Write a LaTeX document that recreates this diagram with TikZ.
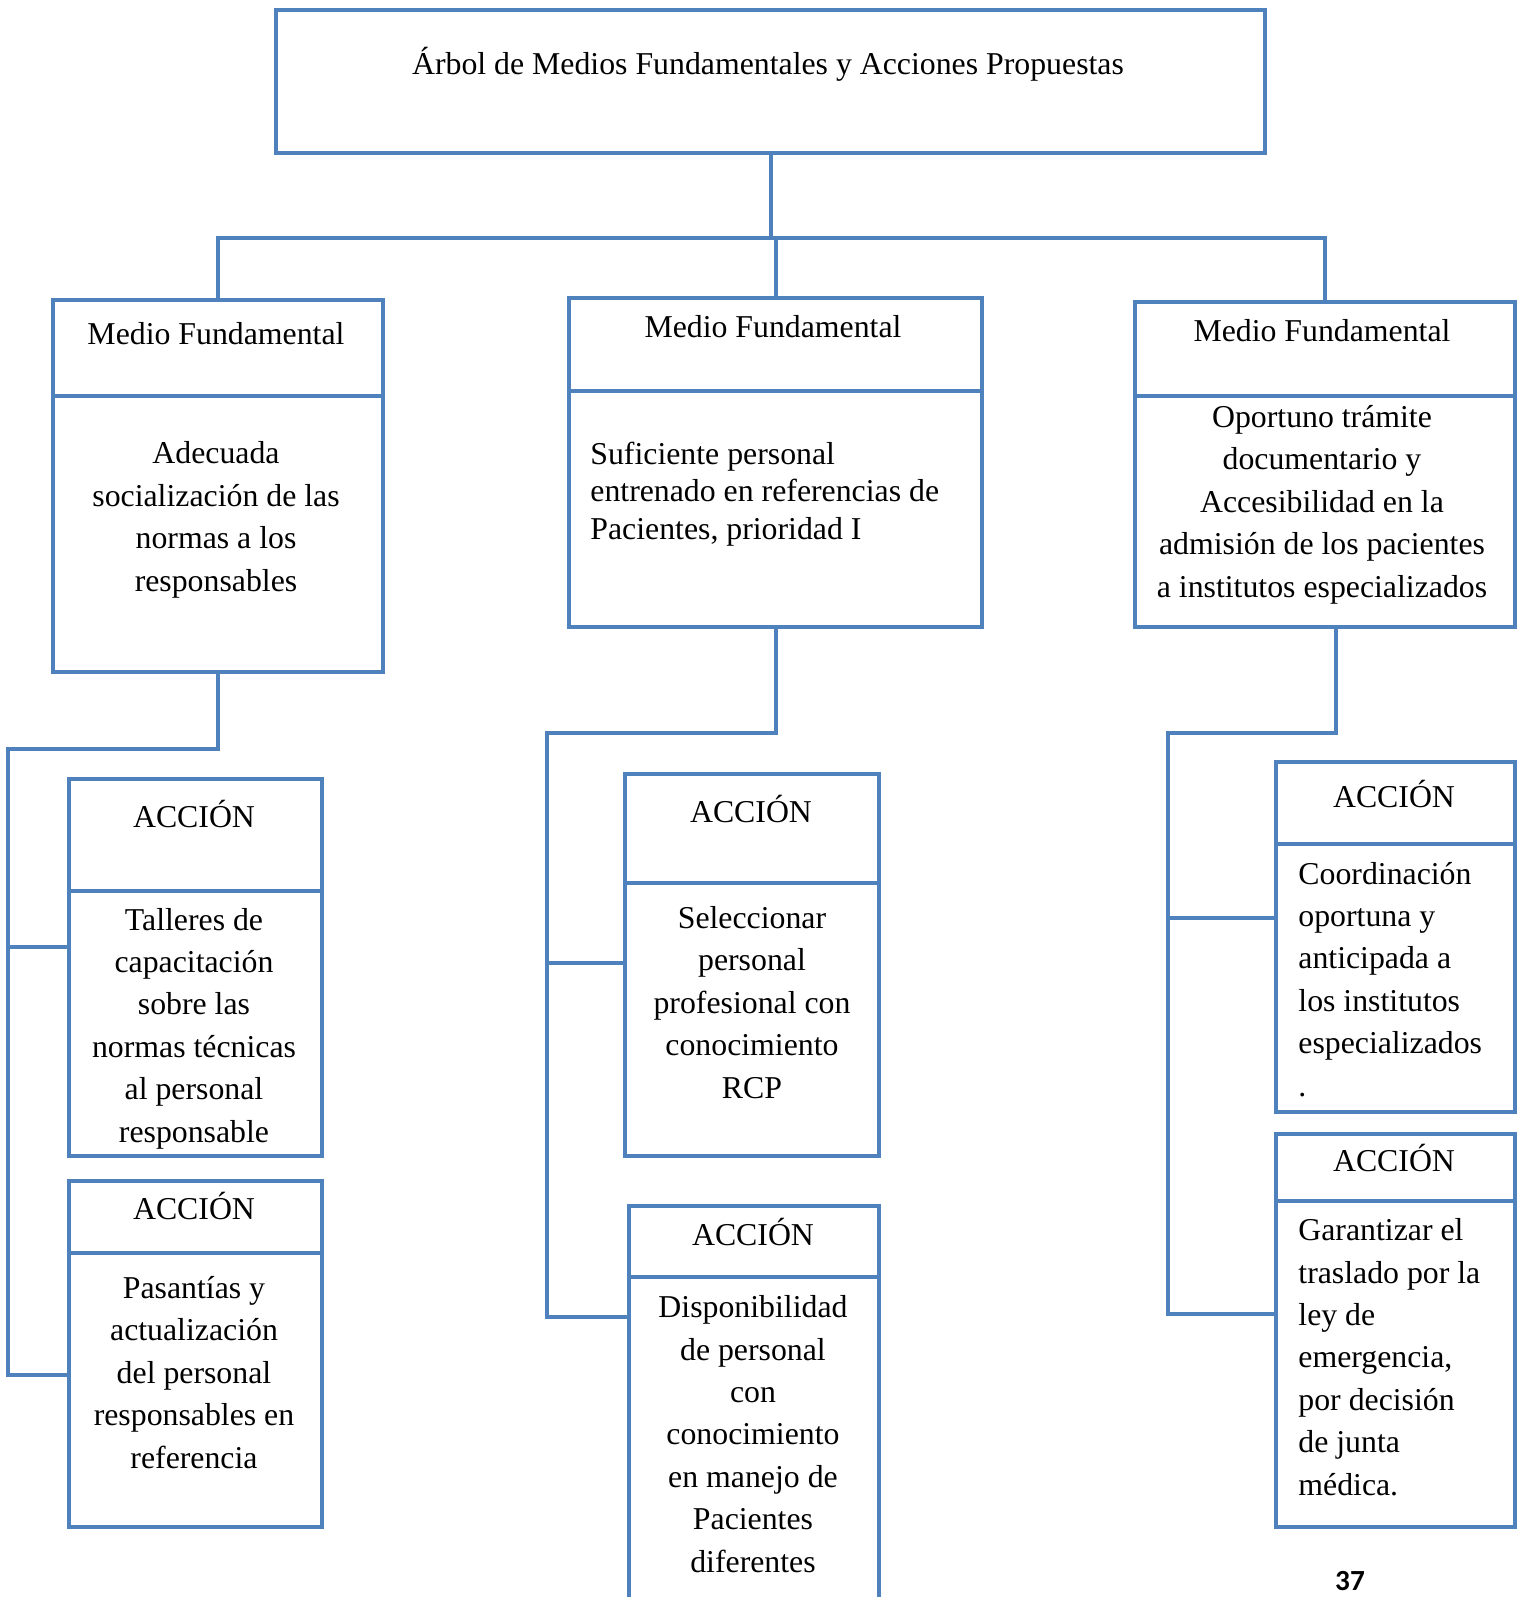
\documentclass[tikz,border=0pt]{standalone}
\usepackage{fontspec}
\setmainfont{Liberation Serif}
\newfontfamily\pagefont{Carlito}
\usetikzlibrary{calc}
\definecolor{wordblue}{HTML}{4F81BD}

\begin{document}
\begin{tikzpicture}[x=0.5pt, y=-0.5pt,
  box/.style={draw=wordblue, line width=2.2pt, rectangle, inner sep=0, anchor=north west},
  link/.style={draw=wordblue, line width=2.2pt},
  txt/.style={inner sep=0, font=\fontsize{15.9}{21.2}\selectfont, align=center, anchor=base},
  ltxt/.style={txt, align=left, anchor=base west}]

  \path[use as bounding box, clip] (0,0) rectangle (1525,1597);

  % cajas
  \node[box, minimum width=494.5pt, minimum height=71.5pt] at (274,8) (title) {};
  \node[box, minimum width=165pt, minimum height=48pt] at (51,298) (mf1h) {};
  \node[box, minimum width=165pt, minimum height=138pt] at (51,394) (mf1b) {};
  \node[box, minimum width=206.5pt, minimum height=46.5pt] at (567,296) (mf2h) {};
  \node[box, minimum width=206.5pt, minimum height=118pt] at (567,389) (mf2b) {};
  \node[box, minimum width=190pt, minimum height=47pt] at (1133,300) (mf3h) {};
  \node[box, minimum width=190pt, minimum height=115.5pt] at (1133,394) (mf3b) {};

  \node[box, minimum width=126.5pt, minimum height=56pt] at (67,777) (a1h) {};
  \node[box, minimum width=126.5pt, minimum height=132.5pt] at (67,889) (a1b) {};
  \node[box, minimum width=126.5pt, minimum height=36pt] at (67,1179) (a2h) {};
  \node[box, minimum width=126.5pt, minimum height=137pt] at (67,1251) (a2b) {};
  \node[box, minimum width=127pt, minimum height=54.5pt] at (623,772) (a3h) {};
  \node[box, minimum width=127pt, minimum height=136.5pt] at (623,881) (a3b) {};
  \node[box, minimum width=125pt, minimum height=35.5pt] at (627,1204) (a4h) {};
  \node[box, minimum width=125pt, minimum height=172.5pt] at (627,1275) (a4b) {};
  \node[box, minimum width=119.5pt, minimum height=41pt] at (1274,760) (a5h) {};
  \node[box, minimum width=119.5pt, minimum height=134pt] at (1274,842) (a5b) {};
  \node[box, minimum width=119.5pt, minimum height=33.5pt] at (1274,1132) (a6h) {};
  \node[box, minimum width=119.5pt, minimum height=163pt] at (1274,1199) (a6b) {};

  % textos (base = ultima linea)
  \node[txt] at (768,74) (ttitle) {Árbol de Medios Fundamentales y Acciones Propuestas};
  \node[txt] at (216,344) (tmf1h) {Medio Fundamental};
  \node[txt] at (216,591) (tmf1b) {Adecuada\\socialización de las\\normas a los\\responsables};
  \node[txt] at (773,337) (tmf2h) {Medio Fundamental};
  \node[ltxt, font=\fontsize{15.9}{18.6}\selectfont] at (590,539) (tmf2b)
    {Suficiente personal\\entrenado en referencias de\\Pacientes, prioridad I};
  \node[txt] at (1322,341) (tmf3h) {Medio Fundamental};
  \node[txt] at (1322,597) (tmf3b)
    {Oportuno trámite\\documentario y\\Accesibilidad en la\\admisión de los pacientes\\a institutos especializados};

  \node[txt] at (194,827) (ta1h) {ACCIÓN};
  \node[txt] at (194,1142) (ta1b)
    {Talleres de\\capacitación\\sobre las\\normas técnicas\\al personal\\responsable};
  \node[txt] at (194,1219) (ta2h) {ACCIÓN};
  \node[txt] at (194,1468) (ta2b)
    {Pasantías y\\actualización\\del personal\\responsables en\\referencia};
  \node[txt] at (751,822) (ta3h) {ACCIÓN};
  \node[txt] at (752,1098) (ta3b)
    {Seleccionar\\personal\\profesional con\\conocimiento\\RCP};
  \node[txt] at (753,1245) (ta4h) {ACCIÓN};
  \node[txt] at (753,1572) (ta4b)
    {Disponibilidad\\de personal\\con\\conocimiento\\en manejo de\\Pacientes\\diferentes};
  \node[txt] at (1394,807) (ta5h) {ACCIÓN};
  \node[ltxt] at (1298,1096) (ta5b)
    {Coordinación\\oportuna y\\anticipada a\\los institutos\\especializados\\.};
  \node[txt] at (1394,1171) (ta6h) {ACCIÓN};
  \node[ltxt] at (1298,1495) (ta6b)
    {Garantizar el\\traslado por la\\ley de\\emergencia,\\por decisión\\de junta\\médica.};

  \node[inner sep=0, anchor=base, font=\pagefont\bfseries\fontsize{14.6}{16}\selectfont]
    at (1350,1590) (pg) {37};

  % conectores
  \coordinate (bar) at (0,238);
  \draw[link] (title.south) -- (title.south |- bar);
  \draw[link] (mf1h.north) -- (mf1h.north |- bar) -- (mf3h.north |- bar) -- (mf3h.north);
  \draw[link] (mf2h.north |- bar) -- (mf2h.north);

  \coordinate (s1) at (8,749);
  \coordinate (j1) at (8,947);
  \coordinate (j2) at (8,1375);
  \draw[link] (mf1b.south) |- (s1) -- (j2) -- (j2 -| a2b.west);
  \draw[link] (j1) -- (j1 -| a1b.west);

  \coordinate (s2) at (547,733);
  \coordinate (j3) at (547,963);
  \coordinate (j4) at (547,1317);
  \draw[link] (mf2b.south) |- (s2) -- (j4) -- (j4 -| a4b.west);
  \draw[link] (j3) -- (j3 -| a3b.west);

  \coordinate (s3) at (1168,733);
  \coordinate (j5) at (1168,918);
  \coordinate (j6) at (1168,1314);
  \draw[link] ($(mf3b.south)+(11,0)$) |- (s3) -- (j6) -- (j6 -| a6b.west);
  \draw[link] (j5) -- (j5 -| a5b.west);

\end{tikzpicture}
\end{document}
